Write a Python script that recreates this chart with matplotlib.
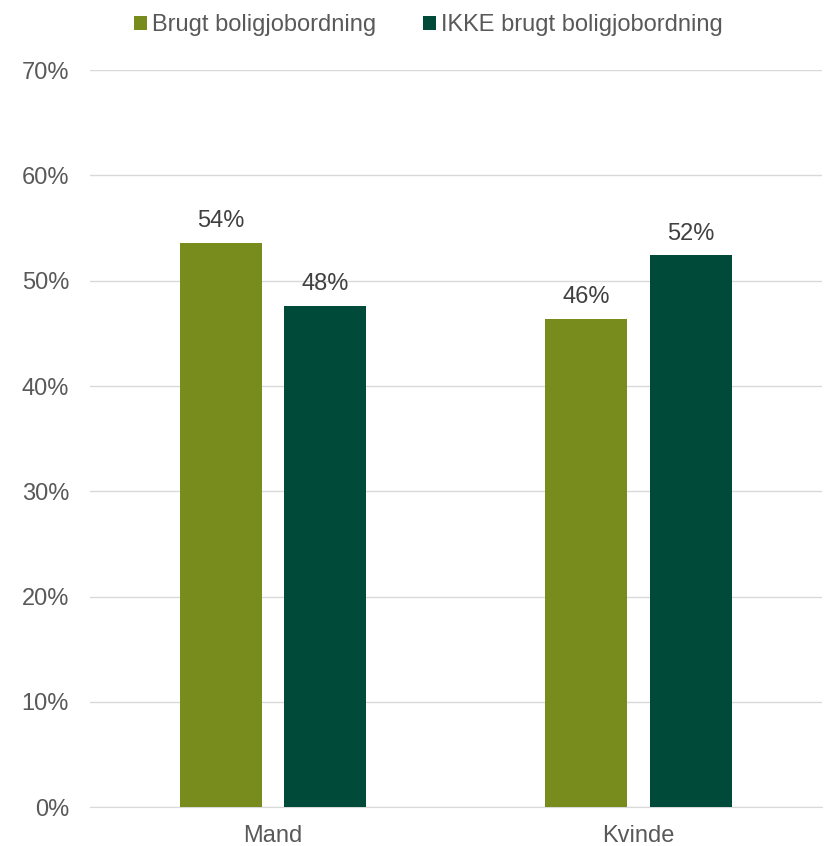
import numpy as np
import matplotlib.pyplot as plt

# data
categories = ["Mand", "Kvinde"]
series_names = ["Brugt boligjobordning", "IKKE brugt boligjobordning"]
brugt = [53.6, 46.4]
ikke_brugt = [47.6, 52.4]
colors = ["#788C1E", "#004A3A"]

plt.rcParams['font.family'] = ['Liberation Sans', 'DejaVu Sans']

fig = plt.figure(figsize=(8.25, 8.46), dpi=100)
ax = fig.add_axes([0.109, 0.046, 0.887, 0.871])

x = np.arange(len(categories))
w = 0.224
off = 0.143
b1 = ax.bar(x - off, brugt, w, color=colors[0], label=series_names[0], zorder=3)
b2 = ax.bar(x + off, ikke_brugt, w, color=colors[1], label=series_names[1], zorder=3)

for bars in (b1, b2):
    for r in bars:
        h = r.get_height()
        ax.text(r.get_x() + r.get_width() / 2, h + 1.0, f"{h:.0f}%",
                ha='center', va='bottom', fontsize=17, color='#404040')

ax.set_xlim(-0.5, 1.5)
ax.set_ylim(0, 70)
ax.set_yticks(range(0, 71, 10))
ax.set_yticklabels([f"{v}%" for v in range(0, 71, 10)])
ax.set_xticks(x)
ax.set_xticklabels(categories)
ax.tick_params(axis='both', length=0, labelsize=17, colors='#595959')
ax.tick_params(axis='x', pad=13)
ax.tick_params(axis='y', pad=15)
ax.grid(axis='y', color='#D9D9D9', linewidth=1, zorder=0)
for s in ['top', 'right', 'left']:
    ax.spines[s].set_visible(False)
ax.spines['bottom'].set_color('#D9D9D9')

fig.legend(loc='upper center', bbox_to_anchor=(0.519, 1.008), ncol=2, frameon=False,
           fontsize=17, handlelength=0.55, handleheight=0.55, handletextpad=0.2,
           columnspacing=2.0, labelcolor='#595959')

fig.savefig("out.png", dpi=100)
